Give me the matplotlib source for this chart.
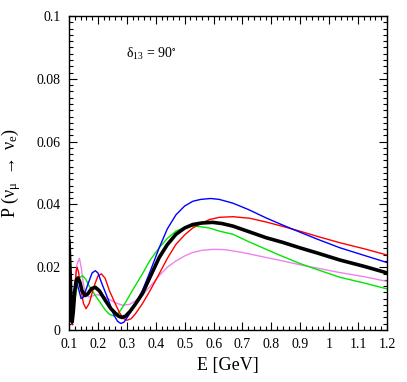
import matplotlib
matplotlib.use("Agg")
import matplotlib.pyplot as plt
from matplotlib.ticker import MultipleLocator, FixedLocator

plt.rcParams['font.family'] = ['Liberation Serif', 'DejaVu Serif']
plt.rcParams['mathtext.fontset'] = 'stix'
plt.rcParams['mathtext.default'] = 'regular'

# curves (E in GeV, P)
e_blue = [0.1, 0.104, 0.108, 0.111, 0.115, 0.12, 0.126, 0.132, 0.142, 0.15, 0.165, 0.18, 0.191, 0.2,
          0.215, 0.237, 0.255, 0.268, 0.279, 0.29, 0.305, 0.33, 0.354, 0.38, 0.412, 0.44, 0.47, 0.5,
          0.528, 0.555, 0.59, 0.62, 0.667, 0.72, 0.782, 0.84, 0.898, 0.96, 1.037, 1.12, 1.2]
p_blue = [0.022, 0.013, 0.004, 0.0022, 0.006, 0.013, 0.0155, 0.0135, 0.0100, 0.0105, 0.0145, 0.0182,
          0.0189, 0.0182, 0.0145, 0.0094, 0.0048, 0.0028, 0.0021, 0.0025, 0.0045, 0.0085, 0.0126,
          0.0185, 0.0262, 0.0322, 0.0367, 0.0395, 0.041, 0.0416, 0.0419, 0.0416, 0.0404, 0.0384,
          0.0357, 0.0334, 0.0312, 0.0289, 0.0262, 0.0238, 0.0215]

e_red = [0.1, 0.104, 0.108, 0.111, 0.115, 0.12, 0.125, 0.128, 0.133, 0.142, 0.15, 0.159, 0.17, 0.185,
         0.2, 0.212, 0.225, 0.24, 0.26, 0.275, 0.288, 0.3, 0.315, 0.33, 0.354, 0.38, 0.412, 0.44, 0.47,
         0.5, 0.528, 0.555, 0.586, 0.62, 0.667, 0.725, 0.782, 0.84, 0.898, 0.96, 1.037, 1.12, 1.2]
p_red = [0.016, 0.009, 0.003, 0.0018, 0.006, 0.0135, 0.019, 0.020, 0.0185, 0.0125, 0.0085, 0.0068,
         0.0085, 0.0135, 0.0172, 0.0179, 0.0165, 0.0125, 0.0084, 0.0055, 0.0037, 0.0031, 0.0036,
         0.0052, 0.0084, 0.0125, 0.0179, 0.0228, 0.0273, 0.0303, 0.0325, 0.0339, 0.0352, 0.0359,
         0.0361, 0.0356, 0.0344, 0.033, 0.0315, 0.0298, 0.0278, 0.0259, 0.0239]

e_green = [0.1, 0.104, 0.108, 0.111, 0.116, 0.122, 0.13, 0.138, 0.147, 0.158, 0.17, 0.191, 0.21,
           0.226, 0.24, 0.255, 0.265, 0.28, 0.3, 0.325, 0.354, 0.38, 0.412, 0.44, 0.47, 0.5, 0.528,
           0.555, 0.586, 0.62, 0.667, 0.72, 0.782, 0.84, 0.898, 0.96, 1.037, 1.12, 1.2]
p_green = [0.0304, 0.02, 0.008, 0.0035, 0.006, 0.0105, 0.015, 0.0168, 0.0173, 0.0162, 0.014, 0.011,
           0.0085, 0.0063, 0.0050, 0.0045, 0.0047, 0.0065, 0.0095, 0.0135, 0.0179, 0.0222, 0.0262,
           0.0292, 0.0315, 0.0327, 0.0331, 0.0329, 0.0325, 0.0315, 0.0305, 0.0282, 0.0257, 0.0234,
           0.0212, 0.0192, 0.0168, 0.015, 0.0131]

e_violet = [0.1, 0.103, 0.106, 0.109, 0.112, 0.116, 0.122, 0.128, 0.136, 0.143, 0.15, 0.158, 0.168,
            0.18, 0.195, 0.21, 0.225, 0.239, 0.26, 0.285, 0.31, 0.331, 0.354, 0.378, 0.412, 0.44, 0.47,
            0.5, 0.528, 0.56, 0.6, 0.64, 0.7, 0.782, 0.84, 0.898, 0.96, 1.037, 1.12, 1.2]
p_violet = [0.034, 0.025, 0.012, 0.0025, 0.0015, 0.006, 0.015, 0.021, 0.0229, 0.0195, 0.0145, 0.0115,
            0.0105, 0.0108, 0.0113, 0.011, 0.0105, 0.0098, 0.0087, 0.0079, 0.0082, 0.0094, 0.0112,
            0.0136, 0.0173, 0.02, 0.022, 0.0236, 0.0247, 0.0254, 0.0257, 0.0256, 0.0247, 0.0231,
            0.022, 0.0208, 0.0197, 0.0183, 0.017, 0.0155]

e_black = [0.1, 0.104, 0.108, 0.111, 0.115, 0.12, 0.125, 0.131, 0.138, 0.145, 0.156, 0.165, 0.178,
           0.191, 0.205, 0.226, 0.245, 0.26, 0.272, 0.283, 0.295, 0.31, 0.33, 0.354, 0.38, 0.412, 0.44,
           0.47, 0.5, 0.528, 0.56, 0.597, 0.63, 0.667, 0.72, 0.782, 0.84, 0.898, 0.96, 1.037, 1.12, 1.2]
p_black = [0.0283, 0.018, 0.006, 0.0026, 0.006, 0.0125, 0.0158, 0.0166, 0.0152, 0.0125, 0.011, 0.0115,
           0.0132, 0.0136, 0.0125, 0.0094, 0.0068, 0.0054, 0.0044, 0.004, 0.0044, 0.0058, 0.0083,
           0.0116, 0.0168, 0.0231, 0.0272, 0.0305, 0.0325, 0.0336, 0.0341, 0.0343, 0.0339, 0.0331,
           0.0314, 0.0294, 0.0279, 0.0262, 0.0245, 0.0223, 0.0203, 0.0182]

x_ticks = [0.1, 0.2, 0.3, 0.4, 0.5, 0.6, 0.7, 0.8, 0.9, 1.0, 1.1, 1.2]
x_labels = ['0.1', '0.2', '0.3', '0.4', '0.5', '0.6', '0.7', '0.8', '0.9', '1', '1.1', '1.2']
y_ticks = [0, 0.02, 0.04, 0.06, 0.08, 0.1]
y_labels = ['0', '0.02', '0.04', '0.06', '0.08', '0.1']

fig = plt.figure(figsize=(4.07, 3.82), dpi=100)
ax = fig.add_axes([0.1695, 0.136, 0.7815, 0.822])

ax.plot(e_violet, p_violet, color='#ee82ee', lw=1.0)
ax.plot(e_green, p_green, color='#00e600', lw=1.0)
ax.plot(e_red, p_red, color='#ff0000', lw=1.0)
ax.plot(e_blue, p_blue, color='#0000ff', lw=1.0)
ax.plot(e_black, p_black, color='black', lw=2.6)

ax.set_xlim(0.1, 1.2)
ax.set_ylim(0, 0.1)
ax.xaxis.set_major_locator(FixedLocator(x_ticks))
ax.set_xticklabels(x_labels)
ax.yaxis.set_major_locator(FixedLocator(y_ticks))
ax.set_yticklabels(y_labels)
ax.xaxis.set_minor_locator(MultipleLocator(0.02))
ax.yaxis.set_minor_locator(MultipleLocator(0.002))

ax.tick_params(which='both', direction='in', top=True, right=True, labelsize=10, width=0.8)
ax.tick_params(which='major', length=6, pad=6)
ax.tick_params(which='minor', length=3)
for s in ax.spines.values():
    s.set_linewidth(1.0)

ax.set_xlabel('E [GeV]', fontsize=13, labelpad=4)
ax.set_ylabel(r'P ($\nu_{\mu}$ $\rightarrow$ $\nu_{e}$)', fontsize=13, labelpad=10)
ax.text(0.297, 0.088, r'$\delta_{13}$ = 90$^{\circ}$', fontsize=10, va='center')

fig.savefig('out.png', dpi=100)
